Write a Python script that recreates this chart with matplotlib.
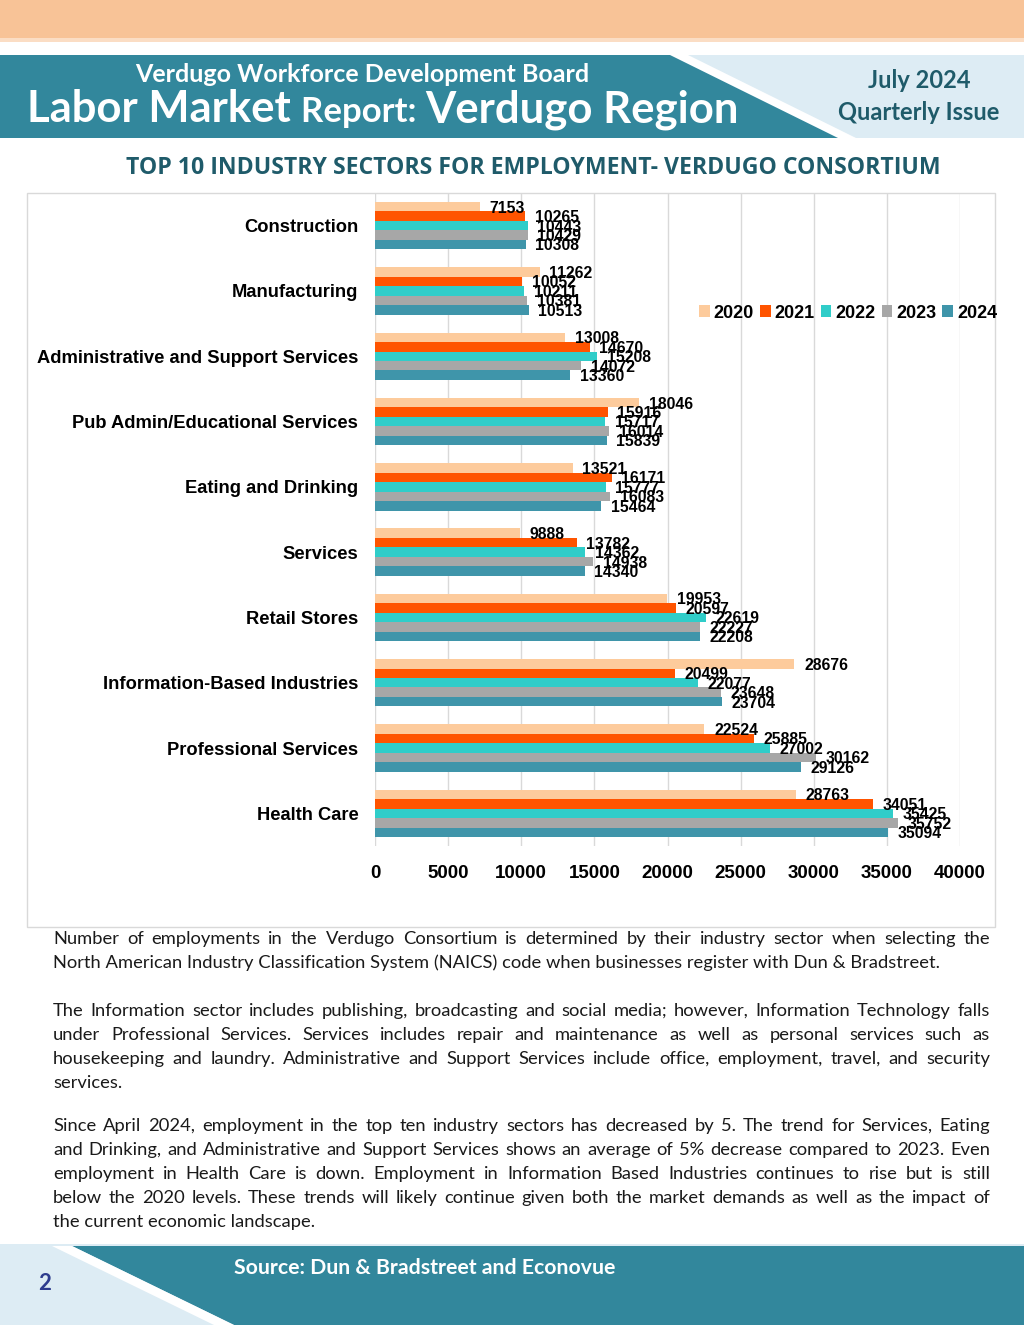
import matplotlib
import matplotlib.pyplot as plt
from matplotlib.font_manager import FontProperties
from matplotlib.patches import Polygon, Rectangle
import numpy as np

matplotlib.use('Agg')

# data
sectors = ['Construction', 'Manufacturing', 'Administrative and Support Services',
           'Pub Admin/Educational Services', 'Eating and Drinking', 'Services',
           'Retail Stores', 'Information-Based Industries', 'Professional Services',
           'Health Care']
years = ['2020', '2021', '2022', '2023', '2024']
v2020 = [7153, 11262, 13008, 18046, 13521, 9888, 19953, 28676, 22524, 28763]
v2021 = [10265, 10052, 14670, 15916, 16171, 13782, 20597, 20499, 25885, 34051]
v2022 = [10443, 10211, 15208, 15717, 15777, 14362, 22619, 22077, 27002, 35425]
v2023 = [10429, 10381, 14072, 16014, 16083, 14938, 22227, 23648, 30162, 35752]
v2024 = [10308, 10513, 13360, 15839, 15464, 14340, 22208, 23704, 29126, 35094]
x_ticks = [0, 5000, 10000, 15000, 20000, 25000, 30000, 35000, 40000]

paragraphs = [
    ['Number of employments in the Verdugo Consortium is determined by their industry sector when selecting the',
     'North American Industry Classification System (NAICS) code when businesses register with Dun & Bradstreet.'],
    ['The Information sector includes publishing, broadcasting and social media; however, Information Technology falls',
     'under Professional Services. Services includes repair and maintenance as well as personal services such as',
     'housekeeping and laundry. Administrative and Support Services include office, employment, travel, and security',
     'services.'],
    ['Since April 2024, employment in the top ten industry sectors has decreased by 5. The trend for Services, Eating',
     'and Drinking, and Administrative and Support Services shows an average of 5% decrease compared to 2023.  Even',
     'employment in Health Care is down. Employment in Information Based Industries continues to rise but is still',
     'below the 2020 levels. These trends will likely continue given both the market demands as well as the impact of',
     'the current economic landscape.'],
]
para_tops = [939, 1011, 1126]

colors = ['#FDCB9C', '#FF5400', '#30CDC9', '#A7A7A7', '#3F95AA']
TEAL = '#32879C'
LIGHT = '#DDECF4'
DARK_TEAL = '#1F5B6A'

W, H = 1024, 1325
fig = plt.figure(figsize=(W / 100, H / 100), dpi=100, facecolor='white')
renderer = fig.canvas.get_renderer()


def fx(px):
    return px / W


def fy(py):
    return 1 - py / H


def poly(points, color, z=0):
    fig.patches.append(Polygon([(fx(x), fy(y)) for x, y in points], closed=True,
                               transform=fig.transFigure, facecolor=color,
                               edgecolor='none', zorder=z))


def text_width(s, prop):
    w, _, _ = renderer.get_text_width_height_descent(s, prop, ismath=False)
    return w


# page decoration
poly([(0, 0), (W, 0), (W, 38), (0, 38)], '#F8C397')
poly([(0, 38), (W, 38), (W, 42), (0, 42)], '#FBDDC4')
poly([(688, 55), (W, 55), (W, 138), (856, 138)], LIGHT)
poly([(0, 55), (670, 55), (838, 138), (0, 138)], TEAL)
poly([(0, 1244), (W, 1244), (W, H), (0, H)], LIGHT)
poly([(72, 1246), (W, 1246), (W, H), (234, H)], TEAL)
poly([(52, 1246), (72, 1246), (234, H), (214, H)], 'white')

head_font = 'Lato'
fig.text(fx(362), fy(75), 'Verdugo Workforce Development Board', color='white',
         fontsize=18, fontweight='bold', family=head_font, ha='center', va='center')

# big title in pieces of two sizes
big = FontProperties(family=head_font, weight='bold', size=31.4)
small = FontProperties(family=head_font, weight='bold', size=25)
pieces = [('Labor Market ', big), ('Report: ', small), ('Verdugo Region', big)]
xpos = 27
for s, prop in pieces:
    fig.text(fx(xpos), fy(122), s, color='white', fontproperties=prop,
             ha='left', va='baseline')
    xpos += text_width(s, prop)

fig.text(fx(919), fy(81), 'July 2024', color=DARK_TEAL, fontsize=17,
         fontweight='bold', family=head_font, ha='center', va='center')
fig.text(fx(919), fy(113), 'Quarterly Issue', color=DARK_TEAL, fontsize=17,
         fontweight='bold', family=head_font, ha='center', va='center')

fig.text(fx(533), fy(168), 'TOP 10 INDUSTRY SECTORS FOR EMPLOYMENT- VERDUGO CONSORTIUM',
         color=DARK_TEAL, fontsize=16.6, fontweight='bold', family='Open Sans',
         ha='center', va='center')

fig.text(fx(234), fy(1268), 'Source: Dun & Bradstreet and Econovue', color='white',
         fontsize=15.3, fontweight='bold', family=head_font, ha='left', va='center')
fig.text(fx(45), fy(1284), '2', color='#2D3C8E', fontsize=16, fontweight='bold',
         family=head_font, ha='center', va='center')

# chart frame
fig.patches.append(Rectangle((fx(27), fy(927)), fx(995 - 27), (927 - 193) / H,
                             transform=fig.transFigure, facecolor='white',
                             edgecolor='#D9D9D9', linewidth=1, zorder=1))

ax = fig.add_axes([fx(375), fy(846), fx(960 - 375), (846 - 193) / H], zorder=2)
ax.set_facecolor('none')
series = [v2020, v2021, v2022, v2023, v2024]
y = np.arange(len(sectors))
bar_h = 0.145
for i, (vals, col, yr) in enumerate(zip(series, colors, years)):
    pos = y - 2 * bar_h + i * bar_h
    ax.barh(pos, vals, height=bar_h, color=col, label=yr, zorder=2)
    for p, v in zip(pos, vals):
        ax.annotate(str(v), xy=(v, p), xytext=(7, -1), textcoords='offset points',
                    ha='left', va='center', fontsize=11.3, fontweight='bold',
                    family='Liberation Sans', color='black', zorder=3)

ax.set_xlim(0, 40000)
ax.set_ylim(len(sectors) - 0.5, -0.5)
ax.set_xticks(x_ticks)
ax.set_xticklabels([str(t) for t in x_ticks])
ax.set_yticks(y)
ax.set_yticklabels(sectors)
ax.grid(axis='x', color='#D9D9D9', linewidth=1, zorder=0)
ax.set_axisbelow(True)
for sp in ax.spines.values():
    sp.set_visible(False)
ax.tick_params(axis='both', length=0)
ax.tick_params(axis='x', pad=14)
ax.tick_params(axis='y', pad=12)
for lab in ax.get_xticklabels():
    lab.set_fontsize(13.5)
    lab.set_fontweight('bold')
    lab.set_family('Liberation Sans')
for lab in ax.get_yticklabels():
    lab.set_fontsize(13.2)
    lab.set_fontweight('bold')
    lab.set_family('Liberation Sans')

fig.legend(loc='center right', bbox_to_anchor=(fx(997), fy(313)), ncol=5, frameon=False,
           prop=FontProperties(family='Liberation Sans', weight='bold', size=13),
           handlelength=0.6, handleheight=0.6, handletextpad=0.2, columnspacing=0.35,
           borderaxespad=0, borderpad=0)

# justified paragraphs
body = FontProperties(family='Lato', size=13.2)
left, right = 53, 990
line_h = 24
for lines, top in zip(paragraphs, para_tops):
    for k, line in enumerate(lines):
        yy = top + k * line_h
        last = k == len(lines) - 1
        if last:
            fig.text(fx(left), fy(yy), line, fontproperties=body, color='#1A1A1A',
                     ha='left', va='center')
            continue
        words = line.split()
        widths = [text_width(w_, body) for w_ in words]
        gap = (right - left - sum(widths)) / (len(words) - 1)
        xx = left
        for w_, ww in zip(words, widths):
            fig.text(fx(xx), fy(yy), w_, fontproperties=body, color='#1A1A1A',
                     ha='left', va='center')
            xx += ww + gap

fig.savefig('out.png', dpi=100, facecolor='white')
